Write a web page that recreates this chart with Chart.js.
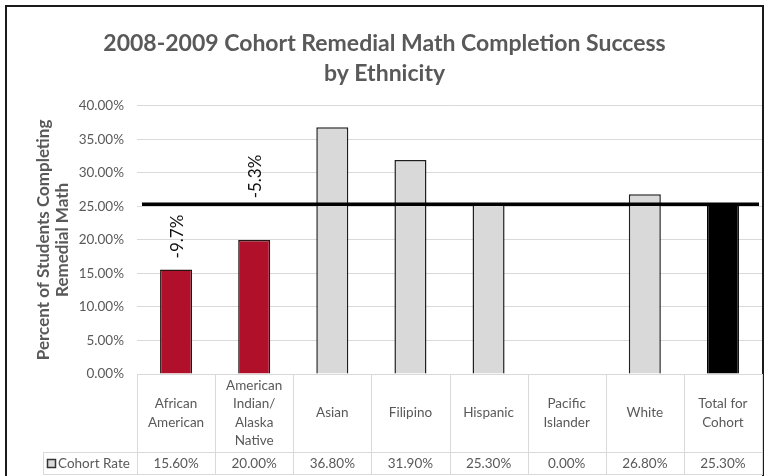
<!DOCTYPE html>
<html><head><meta charset="utf-8">
<script src="https://cdn.jsdelivr.net/npm/chart.js@4/dist/chart.umd.min.js"></script>
<style>html,body{margin:0;padding:0;background:#fff;} canvas{display:block}</style>
</head><body>
<canvas id="c" width="769" height="476"></canvas>
<script>
// ---- data ----
const categories = [["African","American"],["American","Indian/","Alaska","Native"],["Asian"],["Filipino"],["Hispanic"],["Pacific","Islander"],["White"],["Total for","Cohort"]];
const cohortRate = [15.6, 20.0, 36.8, 31.9, 25.3, 0.0, 26.8, 25.3];
const cohortTotal = 25.3;
const gapLabels = ["-9.7%", "-5.3%", null, null, null, null, null, null];
const yTicks = [0, 5, 10, 15, 20, 25, 30, 35, 40];
const seriesName = "Cohort Rate";
const titleLines = ["2008-2009 Cohort Remedial Math Completion Success", "by Ethnicity"];
const yTitleLines = ["Percent of Students Completing", "Remedial Math"];

// ---- styles ----
const FONT = "Lato, 'Open Sans', sans-serif";
const TXT = "#595959";
const RED = "#b0102a", GRAY = "#d9d9d9", BLACK = "#000000";
const barFill = [RED, RED, GRAY, GRAY, GRAY, GRAY, GRAY, BLACK];
const barEdge = ["#2a1515", "#2a1515", "#1f1f1f", "#1f1f1f", "#1f1f1f", "#1f1f1f", "#1f1f1f", BLACK];

function line(ctx, x1, y1, x2, y2) { ctx.beginPath(); ctx.moveTo(x1, y1); ctx.lineTo(x2, y2); ctx.stroke(); }

const framePlugin = {
  id: 'frame',
  beforeDraw(chart) {
    const ctx = chart.ctx;
    ctx.save();
    ctx.fillStyle = '#fff';
    ctx.fillRect(0, 0, chart.width, chart.height);
    ctx.strokeStyle = '#1a1a1a';
    ctx.lineWidth = 2;
    ctx.strokeRect(6, 6, 757, 490);
    ctx.restore();
  }
};

const refLinePlugin = {
  id: 'refLine',
  afterDatasetsDraw(chart) {
    const ctx = chart.ctx, y = chart.scales.y, x = chart.scales.x, a = chart.chartArea;
    const ly = y.getPixelForValue(cohortTotal);
    ctx.save();
    ctx.strokeStyle = '#000';
    ctx.lineWidth = 3.5;
    line(ctx, a.left + 5, ly, a.right - 3, ly);
    // gap labels (rotated)
    ctx.font = "17px " + FONT;
    ctx.fillStyle = '#111';
    ctx.textAlign = 'left';
    ctx.textBaseline = 'middle';
    gapLabels.forEach((t, i) => {
      if (!t) return;
      const cx = x.getPixelForValue(i) + 1;
      const barTop = y.getPixelForValue(cohortRate[i]);
      const w = ctx.measureText(t).width;
      let bottom = barTop - 11;
      if (bottom - w < ly + 6) bottom = ly - 6;
      ctx.save();
      ctx.translate(cx, bottom);
      ctx.rotate(-Math.PI / 2);
      ctx.fillText(t, 0, 0);
      ctx.restore();
    });
    ctx.restore();
  }
};

const tablePlugin = {
  id: 'dataTable',
  afterDraw(chart) {
    const ctx = chart.ctx, x = chart.scales.x, a = chart.chartArea;
    const step = x.getPixelForValue(1) - x.getPixelForValue(0);
    const top = a.bottom, mid = top + 78, bot = top + 101;
    const leftCell = 43;
    ctx.save();
    ctx.strokeStyle = '#d9d9d9';
    ctx.lineWidth = 1;
    line(ctx, leftCell, mid + 0.5, a.right, mid + 0.5);
    line(ctx, leftCell, bot - 0.5, a.right, bot - 0.5);
    line(ctx, leftCell + 0.5, mid, leftCell + 0.5, bot);
    for (let i = 0; i <= categories.length; i++) {
      const xb = Math.round(x.getPixelForValue(i) - step / 2) + 0.5;
      line(ctx, xb, top, xb, bot);
    }
    ctx.fillStyle = TXT;
    ctx.font = "13.5px " + FONT;
    ctx.textAlign = 'center';
    ctx.textBaseline = 'middle';
    const lh = 18.5;
    categories.forEach((lines, i) => {
      const cx = x.getPixelForValue(i);
      const cy = top + 39;
      lines.forEach((s, k) => ctx.fillText(s, cx, cy + (k - (lines.length - 1) / 2) * lh));
      ctx.fillText(cohortRate[i].toFixed(2) + '%', cx, mid + 12);
    });
    // legend key
    ctx.fillStyle = GRAY;
    ctx.strokeStyle = '#333';
    ctx.lineWidth = 1.5;
    ctx.fillRect(47.5, 459.5, 8, 8);
    ctx.strokeRect(47.5, 459.5, 8, 8);
    ctx.fillStyle = TXT;
    ctx.textAlign = 'left';
    ctx.fillText(seriesName, 58, mid + 12);
    ctx.restore();
  }
};

new Chart(document.getElementById('c'), {
  type: 'bar',
  data: {
    labels: categories,
    datasets: [{
      label: seriesName,
      data: cohortRate,
      backgroundColor: barFill,
      borderColor: barEdge,
      borderWidth: 1.5,
      categoryPercentage: 1,
      barPercentage: 0.41
    }]
  },
  options: {
    responsive: false,
    animation: false,
    devicePixelRatio: 1,
    layout: { padding: { left: 7, right: 7, top: 0, bottom: 1 } },
    plugins: {
      legend: { display: false },
      tooltip: { enabled: false },
      title: {
        display: true,
        text: titleLines,
        color: TXT,
        font: { family: FONT, size: 23, weight: 'bold', lineHeight: 1.3 },
        padding: { top: 29, bottom: 17 }
      }
    },
    scales: {
      x: {
        grid: { display: false },
        border: { display: false },
        ticks: { display: false },
        afterFit(s) { s.height = 101; }
      },
      y: {
        min: 0, max: 40,
        afterBuildTicks(s) { s.ticks = yTicks.map(v => ({ value: v })); },
        afterFit(s) { s.width = 130; },
        grid: { color: '#d9d9d9', lineWidth: 1, drawTicks: false },
        border: { display: false },
        ticks: {
          color: TXT, padding: 13,
          font: { family: FONT, size: 13.5 },
          callback: v => Number(v).toFixed(2) + '%'
        },
        title: {
          display: true,
          text: yTitleLines,
          color: TXT,
          font: { family: FONT, size: 17, weight: 'bold', lineHeight: 1.12 },
          padding: { top: 27, bottom: 4 }
        }
      }
    }
  },
  plugins: [framePlugin, refLinePlugin, tablePlugin]
});
</script>
</body></html>
